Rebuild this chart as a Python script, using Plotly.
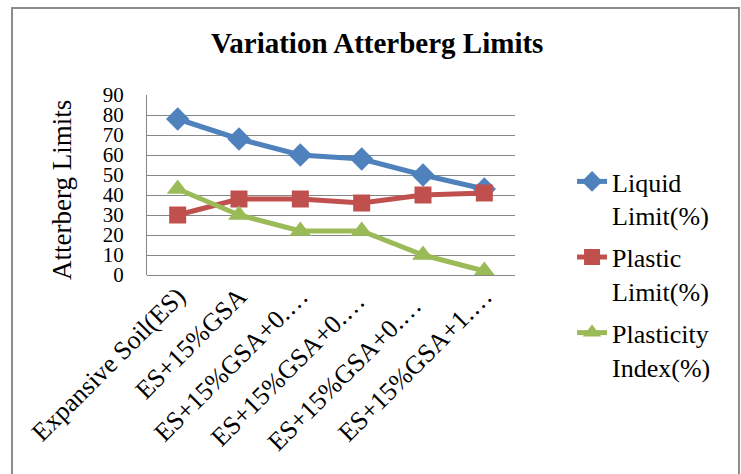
import plotly.graph_objects as go

categories = ["Expansive Soil(ES)", "ES+15%GSA", "ES+15%GSA+0.…", "ES+15%GSA+0.… ",
              "ES+15%GSA+0.…  ", "ES+15%GSA+1.…"]
liquid_limit = [78, 68, 60, 58, 50, 43]
plastic_limit = [30, 38, 38, 36, 40, 41]
plasticity_index = [43, 30, 22, 22, 10, 2]
y_ticks = [0, 10, 20, 30, 40, 50, 60, 70, 80, 90]

FONT = "Liberation Serif"

fig = go.Figure()
fig.add_trace(go.Scatter(x=categories, y=liquid_limit, name="Liquid<br>Limit(%)",
                         mode="lines+markers", legendgroup="a",
                         line=dict(color="#4F81BD", width=5),
                         marker=dict(symbol="diamond", size=18, color="#4F81BD")))
fig.add_trace(go.Scatter(x=categories, y=plastic_limit, name="Plastic<br>Limit(%)",
                         mode="lines+markers", legendgroup="b",
                         line=dict(color="#C0504D", width=5),
                         marker=dict(symbol="square", size=17, color="#C0504D")))
fig.add_trace(go.Scatter(x=categories, y=plasticity_index, name="Plasticity<br>Index(%)",
                         mode="lines+markers", legendgroup="c",
                         line=dict(color="#9BBB59", width=5),
                         marker=dict(symbol="triangle-up", size=19, color="#9BBB59")))

fig.update_layout(
    width=741, height=474,
    margin=dict(l=147, r=226, t=95, b=199),
    paper_bgcolor="white", plot_bgcolor="white",
    font=dict(family=FONT, size=22, color="black"),
    showlegend=True,
    legend=dict(x=1.155, y=0.65, xanchor="left", yanchor="top",
                font=dict(family=FONT, size=26, color="black"), valign="top",
                tracegroupgap=5, maxheight=420, bgcolor="rgba(0,0,0,0)"),
    xaxis=dict(type="category", tickangle=-45, showgrid=False, showline=False,
               ticks="", tickfont=dict(family=FONT, size=26), range=[-0.5, 5.5]),
    yaxis=dict(range=[0, 90], tickvals=y_ticks, showgrid=True, gridcolor="#868686",
               gridwidth=1, showline=True, linecolor="#868686", linewidth=1,
               ticks="", ticklabelstandoff=18, zeroline=True, zerolinecolor="#868686",
               zerolinewidth=1, tickfont=dict(family=FONT, size=21)),
    annotations=[
        dict(text="<b>Variation Atterberg Limits</b>", x=0.625, y=1.289,
             xref="paper", yref="paper", xanchor="center", yanchor="middle",
             showarrow=False, font=dict(family=FONT, size=29, color="black")),
        dict(text="Atterberg Limits", x=-0.231, y=0.472, xref="paper", yref="paper",
             xanchor="center", yanchor="middle", textangle=-90, showarrow=False,
             font=dict(family=FONT, size=27, color="black")),
    ],
    shapes=[
        dict(type="rect", xref="paper", yref="paper", x0=-0.3668, x1=1.6087,
             y0=-1.2, y1=1.4833, line=dict(color="#8C8C8C", width=2),
             fillcolor="rgba(0,0,0,0)", layer="below"),
    ],
)

fig.write_html("out.html")
